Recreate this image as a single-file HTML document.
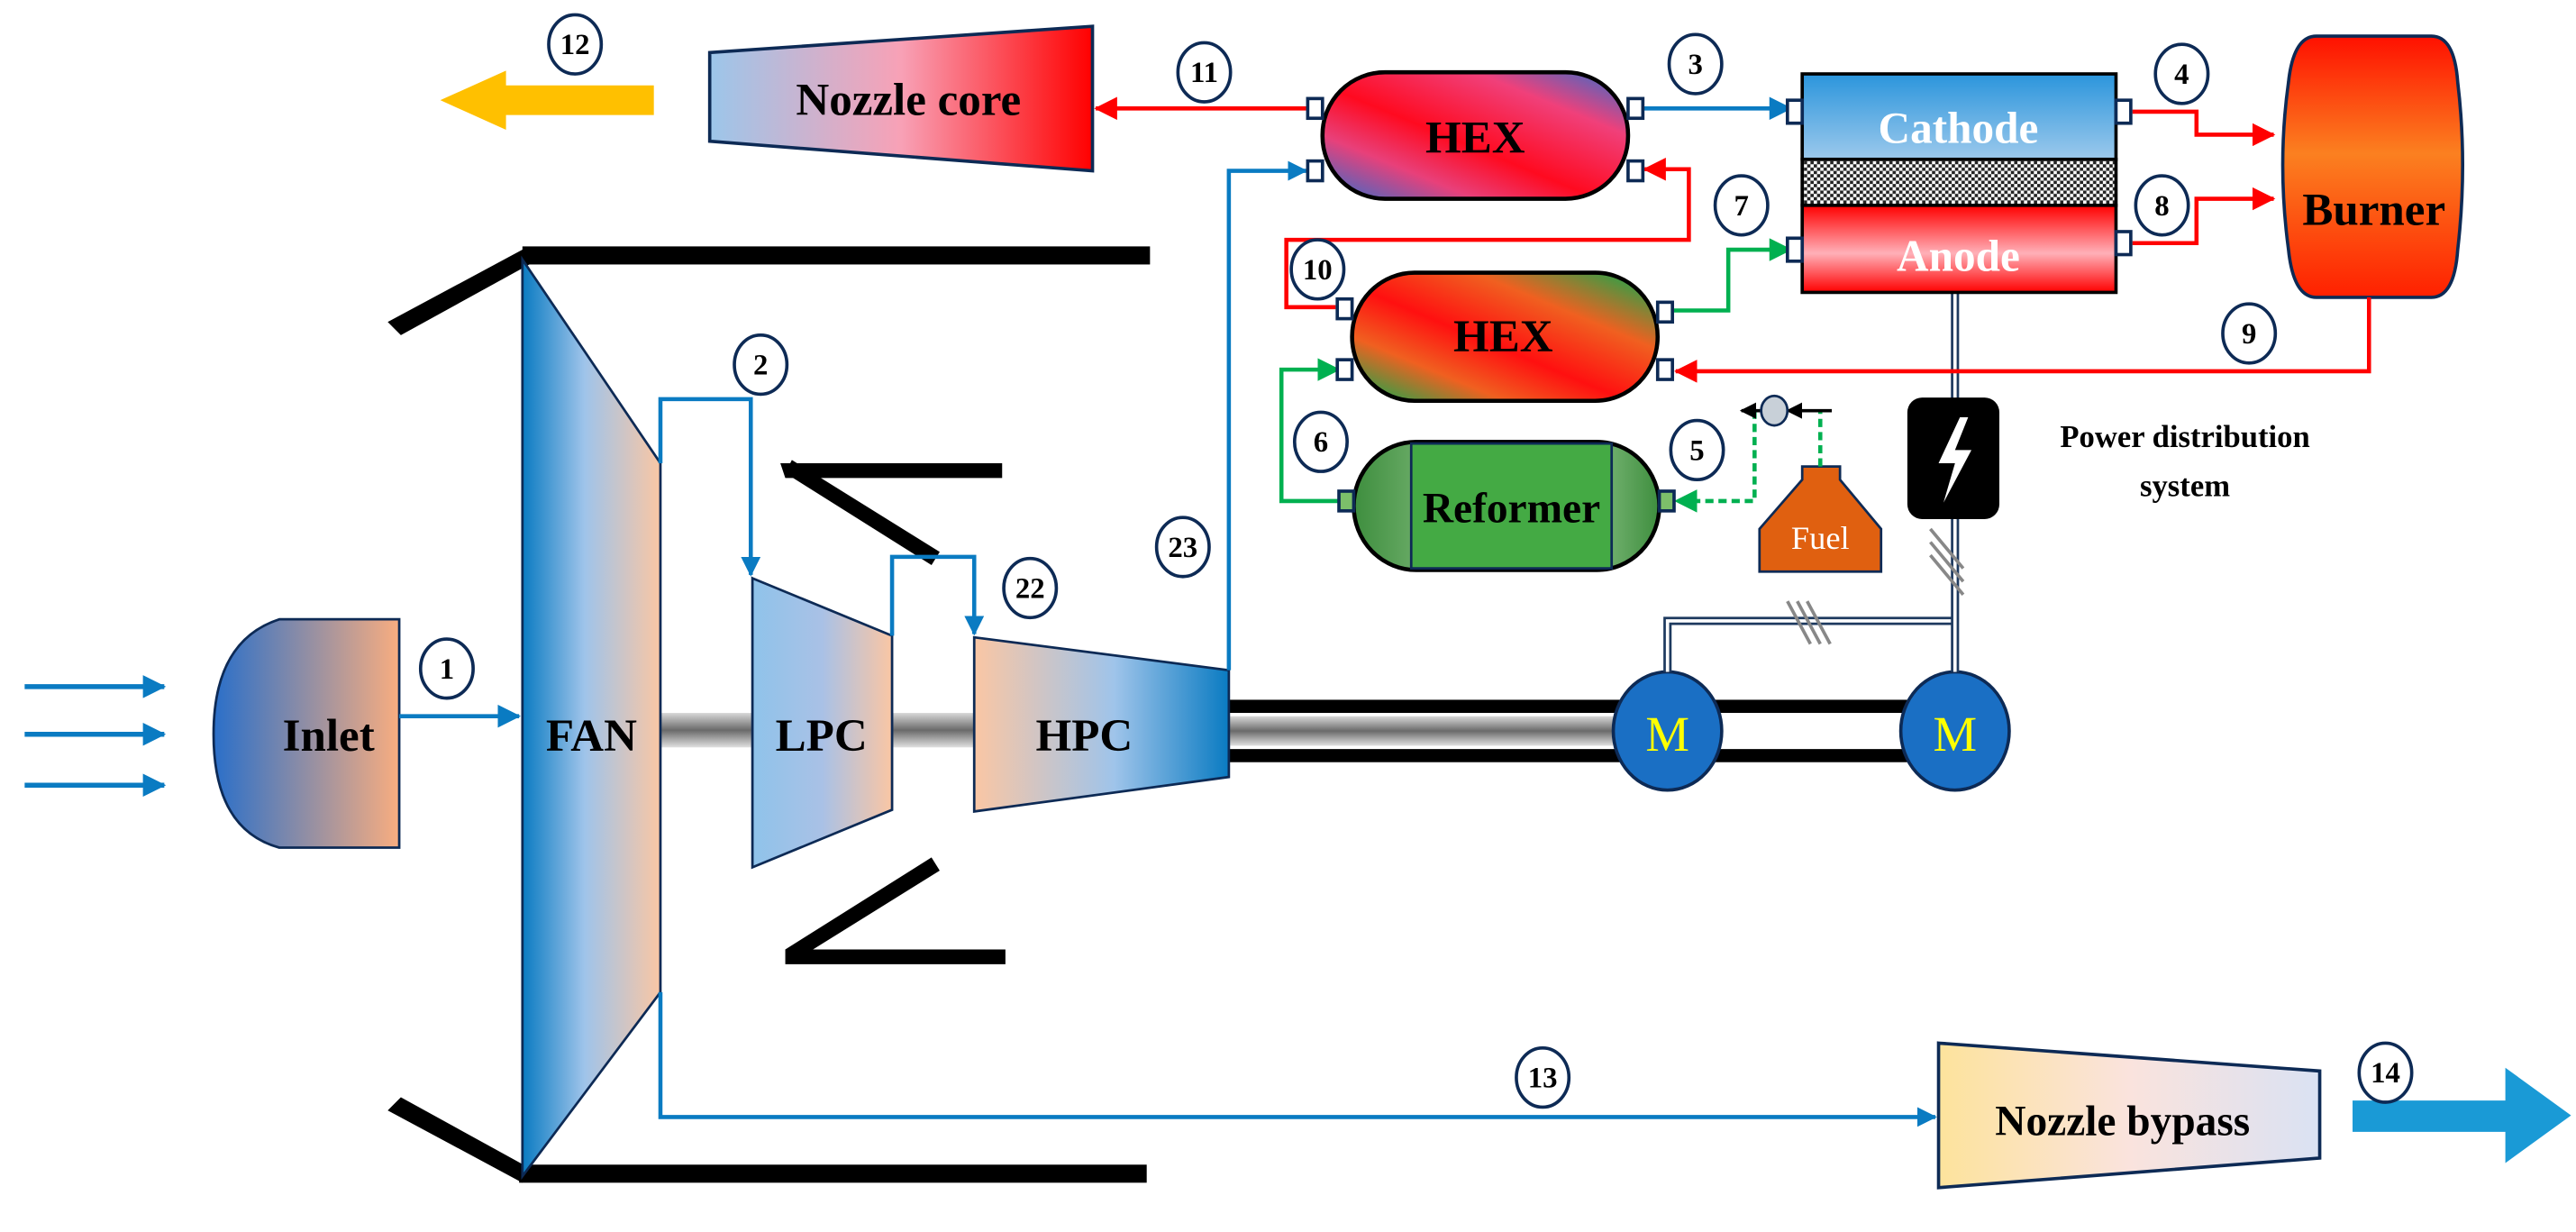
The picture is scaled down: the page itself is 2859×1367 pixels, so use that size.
<!DOCTYPE html>
<html><head><meta charset="utf-8"><style>
html,body{margin:0;padding:0;background:#fff;}
svg{display:block;}
text{font-family:"Liberation Serif",serif;font-weight:bold;}
</style></head><body>
<svg width="2859" height="1367" viewBox="0 0 1568 750" preserveAspectRatio="none" xmlns="http://www.w3.org/2000/svg">
<defs>
<marker id="ab" markerWidth="12" markerHeight="12" refX="11" refY="6" orient="auto" markerUnits="userSpaceOnUse"><path d="M0,0 L12,6 L0,12z" fill="#0a7bc2"/></marker>
<marker id="ab2" markerWidth="14" markerHeight="14" refX="13" refY="7" orient="auto" markerUnits="userSpaceOnUse"><path d="M0,0 L14,7 L0,14z" fill="#0a7bc2"/></marker>
<marker id="ar" markerWidth="14" markerHeight="14" refX="13" refY="7" orient="auto" markerUnits="userSpaceOnUse"><path d="M0,0 L14,7 L0,14z" fill="#ff0000"/></marker>
<marker id="ag" markerWidth="14" markerHeight="14" refX="13" refY="7" orient="auto" markerUnits="userSpaceOnUse"><path d="M0,0 L14,7 L0,14z" fill="#00b050"/></marker>
<marker id="ak" markerWidth="10" markerHeight="10" refX="9" refY="5" orient="auto" markerUnits="userSpaceOnUse"><path d="M0,0 L10,5 L0,10z" fill="#000"/></marker>
<linearGradient id="gInlet" x1="0" x2="1"><stop offset="0" stop-color="#2a6fc9"/><stop offset="1" stop-color="#f8ad80"/></linearGradient>
<linearGradient id="gFan" x1="0" x2="1"><stop offset="0" stop-color="#0a7bc2"/><stop offset="0.45" stop-color="#9fc4ea"/><stop offset="1" stop-color="#fac6a4"/></linearGradient>
<linearGradient id="gLpc" x1="0" x2="1"><stop offset="0" stop-color="#8fc3ea"/><stop offset="0.5" stop-color="#a9c1e6"/><stop offset="1" stop-color="#fac6a4"/></linearGradient>
<linearGradient id="gHpc" x1="0" x2="1"><stop offset="0" stop-color="#fac6a4"/><stop offset="0.55" stop-color="#9fc4ea"/><stop offset="1" stop-color="#0a7bc2"/></linearGradient>
<linearGradient id="gNc" x1="0" x2="1"><stop offset="0" stop-color="#9cc6ea"/><stop offset="0.5" stop-color="#f8a1b6"/><stop offset="1" stop-color="#ff0000"/></linearGradient>
<linearGradient id="gNb" x1="0" x2="1"><stop offset="0" stop-color="#fde39c"/><stop offset="0.5" stop-color="#fae3dd"/><stop offset="1" stop-color="#dae2f3"/></linearGradient>
<linearGradient id="gHex1" x1="0" y1="1" x2="1" y2="0"><stop offset="0" stop-color="#2a6fd0"/><stop offset="0.25" stop-color="#e8407a"/><stop offset="0.45" stop-color="#ff0a20"/><stop offset="0.75" stop-color="#f0407a"/><stop offset="1" stop-color="#2a6fd0"/></linearGradient>
<linearGradient id="gHex2" x1="0" y1="1" x2="1" y2="0"><stop offset="0" stop-color="#00b050"/><stop offset="0.25" stop-color="#f06020"/><stop offset="0.45" stop-color="#ff1010"/><stop offset="0.7" stop-color="#f06020"/><stop offset="1" stop-color="#00b050"/></linearGradient>
<linearGradient id="gCat" x1="0" y1="0" x2="0" y2="1"><stop offset="0" stop-color="#2b95dc"/><stop offset="1" stop-color="#9cc9ec"/></linearGradient>
<linearGradient id="gAn" x1="0" y1="0" x2="0" y2="1"><stop offset="0" stop-color="#ff0000"/><stop offset="0.55" stop-color="#ffb0b8"/><stop offset="1" stop-color="#ff0000"/></linearGradient>
<linearGradient id="gBur" x1="0" y1="0" x2="0" y2="1"><stop offset="0" stop-color="#ff1000"/><stop offset="0.45" stop-color="#fb8020"/><stop offset="1" stop-color="#ff2000"/></linearGradient>
<linearGradient id="gRefEnd" x1="0" x2="1"><stop offset="0" stop-color="#3e8e3e"/><stop offset="0.6" stop-color="#b8e0b0"/><stop offset="1" stop-color="#3e8e3e"/></linearGradient>
<linearGradient id="gShaft" x1="0" y1="0" x2="0" y2="1"><stop offset="0" stop-color="#d8d8d8"/><stop offset="0.5" stop-color="#6a6a6a"/><stop offset="1" stop-color="#e0e0e0"/></linearGradient>
<pattern id="mesh" width="4" height="4" patternUnits="userSpaceOnUse"><rect width="4" height="4" fill="#fff"/><rect width="2" height="2" fill="#222"/><rect x="2" y="2" width="2" height="2" fill="#222"/></pattern>
</defs>

<g stroke="#0a7bc2" stroke-width="3" fill="none">
<line x1="15" y1="418" x2="100" y2="418" marker-end="url(#ab2)"/>
<line x1="15" y1="447" x2="100" y2="447" marker-end="url(#ab2)"/>
<line x1="15" y1="478" x2="100" y2="478" marker-end="url(#ab2)"/>
</g>

<path d="M243,377 L170,377 Q130,390 130,447 Q130,505 170,516 L243,516 Z" fill="url(#gInlet)" stroke="#0d2a55" stroke-width="1.5"/>
<text x="200" y="457" font-size="28" text-anchor="middle">Inlet</text>

<g fill="#000">
<rect x="318" y="150" width="382" height="11"/>
<polygon points="318,152 324,160 244,204 236,196"/>
<rect x="316" y="709" width="382" height="11"/>
<polygon points="318,720 324,712 244,668 236,676"/>
<polygon points="475,282 610,282 610,291 478,291"/>
<polygon points="478,288 482,280 572,336 567,344"/>
<polygon points="478,578 482,586 572,530 567,522"/>
<polygon points="478,578 612,578 612,587 478,587"/>
</g>

<rect x="402" y="434" width="56" height="21" fill="url(#gShaft)"/>
<rect x="543" y="434" width="50" height="21" fill="url(#gShaft)"/>
<rect x="748" y="426" width="240" height="8" fill="#000"/>
<rect x="748" y="456" width="240" height="8" fill="#000"/>
<rect x="748" y="436" width="240" height="18" fill="url(#gShaft)"/>
<rect x="1040" y="426" width="130" height="8" fill="#000"/>
<rect x="1040" y="456" width="130" height="8" fill="#000"/>

<polygon points="318,158 402,282 402,604 318,716" fill="url(#gFan)" stroke="#0d2a55" stroke-width="1.5"/>
<text x="360" y="457" font-size="28" text-anchor="middle">FAN</text>
<polygon points="458,352 543,387 543,493 458,528" fill="url(#gLpc)" stroke="#0d2a55" stroke-width="1.5"/>
<text x="500" y="457" font-size="28" text-anchor="middle">LPC</text>
<polygon points="593,388 748,408 748,473 593,494" fill="url(#gHpc)" stroke="#0d2a55" stroke-width="1.5"/>
<text x="660" y="457" font-size="28" text-anchor="middle">HPC</text>

<ellipse cx="1015" cy="445" rx="33" ry="36" fill="#1a6fc4" stroke="#0d2a55" stroke-width="2"/>
<ellipse cx="1190" cy="445" rx="33" ry="36" fill="#1a6fc4" stroke="#0d2a55" stroke-width="2"/>
<text x="1015" y="457" font-size="30" fill="#ffff00" text-anchor="middle" style="font-weight:normal">M</text>
<text x="1190" y="457" font-size="30" fill="#ffff00" text-anchor="middle" style="font-weight:normal">M</text>

<g fill="none">
<path d="M1015,409 L1015,378 L1190,378" stroke="#1e3a5f" stroke-width="5"/>
<path d="M1015,409 L1015,378 L1190,378" stroke="#fff" stroke-width="2"/>
<line x1="1190" y1="178" x2="1190" y2="409" stroke="#1e3a5f" stroke-width="5"/>
<line x1="1190" y1="178" x2="1190" y2="409" stroke="#fff" stroke-width="2"/>
<g stroke="#888" stroke-width="2">
<line x1="1088" y1="366" x2="1102" y2="392"/><line x1="1094" y1="366" x2="1108" y2="392"/><line x1="1100" y1="366" x2="1114" y2="392"/>
<line x1="1175" y1="322" x2="1195" y2="346"/><line x1="1175" y1="330" x2="1195" y2="354"/><line x1="1175" y1="338" x2="1195" y2="362"/>
</g>
</g>
<rect x="1161" y="242" width="56" height="74" rx="9" fill="#000"/>
<polygon points="1193,254 1180,282 1190,282 1183,306 1200,274 1190,274 1198,254" fill="#fff"/>
<text x="1330" y="272" font-size="19" text-anchor="middle">Power distribution</text>
<text x="1330" y="302" font-size="19" text-anchor="middle">system</text>

<polygon points="432,32 665,16 665,104 432,86" fill="url(#gNc)" stroke="#0d2a55" stroke-width="2"/>
<text x="553" y="70" font-size="28" text-anchor="middle">Nozzle core</text>
<polygon points="398,52 308,52 308,43 268,61 308,79 308,70 398,70" fill="#ffc000"/>

<polygon points="1180,635 1412,652 1412,705 1180,723" fill="url(#gNb)" stroke="#0d2a55" stroke-width="2"/>
<text x="1292" y="691" font-size="26" text-anchor="middle">Nozzle bypass</text>
<polygon points="1432,670 1525,670 1525,650 1565,679 1525,708 1525,689 1432,689" fill="#1a9ad6"/>

<rect x="805" y="44" width="186" height="77" rx="38" ry="38" fill="url(#gHex1)" stroke="#000" stroke-width="2.5"/>
<text x="898" y="93" font-size="28" text-anchor="middle">HEX</text>
<rect x="823" y="166" width="186" height="78" rx="38" ry="39" fill="url(#gHex2)" stroke="#000" stroke-width="2.5"/>
<text x="915" y="214" font-size="28" text-anchor="middle">HEX</text>
<rect x="824" y="269" width="186" height="78" rx="38" ry="39" fill="url(#gRefEnd)" stroke="#000" stroke-width="2.5"/>
<rect x="859" y="270" width="122" height="76" fill="#44aa44" stroke="#0d2a55" stroke-width="1.5"/>
<text x="920" y="318" font-size="26" text-anchor="middle">Reformer</text>

<rect x="1097" y="45" width="191" height="52" fill="url(#gCat)" stroke="#000" stroke-width="2"/>
<rect x="1097" y="97" width="191" height="28" fill="url(#mesh)" stroke="#000" stroke-width="2"/>
<rect x="1097" y="125" width="191" height="53" fill="url(#gAn)" stroke="#000" stroke-width="2"/>
<text x="1192" y="87" font-size="27" fill="#fff" text-anchor="middle">Cathode</text>
<text x="1192" y="165" font-size="27" fill="#fff" text-anchor="middle">Anode</text>

<path d="M1410,22 L1480,22 Q1494,22 1496,50 Q1502,100 1496,152 Q1494,181 1480,181 L1410,181 Q1396,181 1393,152 Q1386,100 1393,50 Q1396,22 1410,22 Z" fill="url(#gBur)" stroke="#0d2a55" stroke-width="2"/>
<text x="1445" y="137" font-size="28" text-anchor="middle">Burner</text>

<path d="M1097,284 L1120,284 L1120,292 L1145,322 L1145,348 L1071,348 L1071,322 L1097,292 Z" fill="#e06010" stroke="#0d2a55" stroke-width="1.5"/>
<text x="1108" y="334" font-size="20" fill="#fff" text-anchor="middle" style="font-weight:normal">Fuel</text>

<g fill="none" stroke-width="2.5">
<path d="M402,282 L402,243 L457,243 L457,350" stroke="#0a7bc2" marker-end="url(#ab)"/>
<path d="M543,387 L543,339 L593,339 L593,386" stroke="#0a7bc2" marker-end="url(#ab)"/>
<path d="M748,408 L748,104 L795,104" stroke="#0a7bc2" marker-end="url(#ab)"/>
<path d="M402,604 L402,680 L1178,680" stroke="#0a7bc2" marker-end="url(#ab)"/>
<path d="M243,436 L316,436" stroke="#0a7bc2" marker-end="url(#ab2)"/>
<path d="M991,66 L1090,66" stroke="#0a7bc2" marker-end="url(#ab2)"/>
<path d="M795,66 L667,66" stroke="#ff0000" marker-end="url(#ar)"/>
<path d="M1298,68 L1337,68 L1337,82 L1384,82" stroke="#ff0000" marker-end="url(#ar)"/>
<path d="M1298,148 L1337,148 L1337,121 L1384,121" stroke="#ff0000" marker-end="url(#ar)"/>
<path d="M1442,181 L1442,226 L1020,226" stroke="#ff0000" marker-end="url(#ar)"/>
<path d="M813,187 L783,187 L783,146 L1028,146 L1028,103 L1001,103" stroke="#ff0000" marker-end="url(#ar)"/>
<path d="M1018,189 L1052,189 L1052,152 L1090,152" stroke="#00b050" marker-end="url(#ag)"/>
<path d="M815,305 L780,305 L780,225 L815,225" stroke="#00b050" marker-end="url(#ag)"/>
<path d="M1108,284 L1108,250 M1068,250 L1068,305 L1020,305" stroke="#00b050" stroke-dasharray="5,3" marker-end="url(#ag)"/>
<path d="M1115,250 L1088,250" stroke="#000" stroke-width="2" marker-end="url(#ak)"/>
<path d="M1073,250 L1060,250" stroke="#000" stroke-width="2" marker-end="url(#ak)"/>
</g>
<ellipse cx="1080" cy="250" rx="8" ry="9" fill="#c8d0d8" stroke="#0d2a55" stroke-width="1.5"/>

<g fill="#fff" stroke="#0d2a55" stroke-width="2">
<rect x="796" y="60" width="9" height="12"/><rect x="796" y="98" width="9" height="12"/>
<rect x="991" y="60" width="9" height="12"/><rect x="991" y="98" width="9" height="12"/>
<rect x="814" y="182" width="9" height="12"/><rect x="814" y="219" width="9" height="12"/>
<rect x="1009" y="184" width="9" height="12"/><rect x="1009" y="219" width="9" height="12"/>
<rect x="1088" y="61" width="9" height="14"/><rect x="1288" y="61" width="9" height="14"/>
<rect x="1088" y="145" width="9" height="14"/><rect x="1288" y="141" width="9" height="14"/>
</g>
<g fill="#7cbf6a" stroke="#0d2a55" stroke-width="2">
<rect x="815" y="299" width="9" height="12"/><rect x="1010" y="299" width="9" height="12"/>
</g>

<g font-size="18" text-anchor="middle">
<g fill="#fff" stroke="#0d2a55" stroke-width="2">
<ellipse cx="350" cy="27" rx="16" ry="18"/><ellipse cx="733" cy="44" rx="16" ry="18"/>
<ellipse cx="1032" cy="39" rx="16" ry="18"/><ellipse cx="1328" cy="45" rx="16" ry="18"/>
<ellipse cx="1316" cy="125" rx="16" ry="18"/><ellipse cx="1060" cy="125" rx="16" ry="18"/>
<ellipse cx="802" cy="164" rx="16" ry="18"/><ellipse cx="1369" cy="203" rx="16" ry="18"/>
<ellipse cx="463" cy="222" rx="16" ry="18"/><ellipse cx="804" cy="269" rx="16" ry="18"/>
<ellipse cx="1033" cy="274" rx="16" ry="18"/><ellipse cx="720" cy="333" rx="16" ry="18"/>
<ellipse cx="627" cy="358" rx="16" ry="18"/><ellipse cx="272" cy="407" rx="16" ry="18"/>
<ellipse cx="939" cy="656" rx="16" ry="18"/><ellipse cx="1452" cy="653" rx="16" ry="18"/>
</g>
<text x="350" y="33">12</text><text x="733" y="50">11</text>
<text x="1032" y="45">3</text><text x="1328" y="51">4</text>
<text x="1316" y="131">8</text><text x="1060" y="131">7</text>
<text x="802" y="170">10</text><text x="1369" y="209">9</text>
<text x="463" y="228">2</text><text x="804" y="275">6</text>
<text x="1033" y="280">5</text><text x="720" y="339">23</text>
<text x="627" y="364">22</text><text x="272" y="413">1</text>
<text x="939" y="662">13</text><text x="1452" y="659">14</text>
</g>
</svg>
</body></html>
